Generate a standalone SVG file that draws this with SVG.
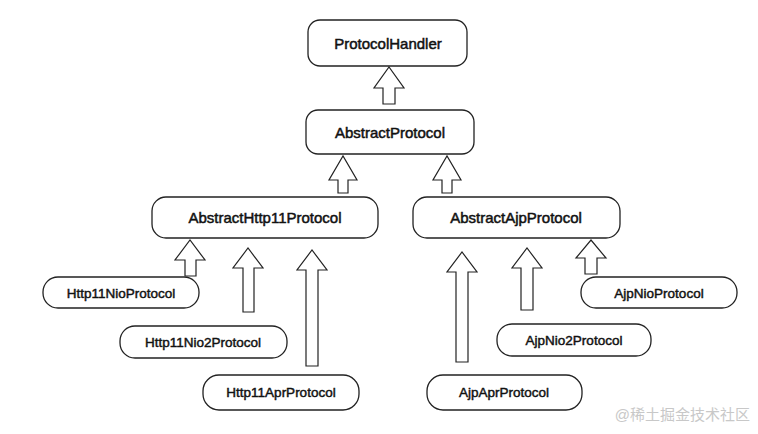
<svg xmlns="http://www.w3.org/2000/svg" width="758" height="434" viewBox="0 0 758 434">
<style>
.b{fill:#fff;stroke:#222;stroke-width:1.3}
.t{font-family:"Liberation Sans",Arial,sans-serif;font-size:15px;fill:#111;text-anchor:middle;dominant-baseline:central;stroke:#111;stroke-width:0.5}
.s{font-size:13.5px;stroke-width:0.45}
.a{fill:#fff;stroke:#222;stroke-width:1.2;stroke-linejoin:miter}
</style>
<rect width="758" height="434" fill="#fff"/>
<g id="connectors">
<path class="a" d="M383,104 V88 H374 L389,67 L404,88 H395 V104 Z"/>
<path class="a" d="M338,193 V180 H329 L343,156 L357,180 H348 V193 Z"/>
<path class="a" d="M442,193 V180 H433 L447,156 L461,180 H452 V193 Z"/>
<path class="a" d="M185,276 V260 H175 L190,240 L205,260 H196 V276 Z"/>
<path class="a" d="M243,312 V268 H233 L248,248 L263,268 H254 V312 Z"/>
<path class="a" d="M306,366 V270 H297 L312,250 L327,270 H318 V366 Z"/>
<path class="a" d="M456,362 V272 H447 L462,252 L477,272 H468 V362 Z"/>
<path class="a" d="M521,310 V268 H512 L527,248 L542,268 H533 V310 Z"/>
<path class="a" d="M585,274 V258 H576 L591,240 L606,258 H597 V274 Z"/>
</g>
<g id="ProtocolHandler"><rect class="b" x="308" y="20" width="159" height="46" rx="12"/><text class="t" x="388" y="43">ProtocolHandler</text></g>
<g id="AbstractProtocol"><rect class="b" x="306" y="110" width="168" height="44" rx="12"/><text class="t" x="390" y="132">AbstractProtocol</text></g>
<g id="AbstractHttp11Protocol"><rect class="b" x="152" y="197" width="226" height="41" rx="14"/><text class="t" x="265" y="217">AbstractHttp11Protocol</text></g>
<g id="AbstractAjpProtocol"><rect class="b" x="413" y="197" width="207" height="41" rx="14"/><text class="t" x="516" y="217">AbstractAjpProtocol</text></g>
<g id="Http11NioProtocol"><rect class="b" x="43" y="277" width="156" height="31" rx="15"/><text class="t s" x="121" y="293">Http11NioProtocol</text></g>
<g id="Http11Nio2Protocol"><rect class="b" x="120" y="326" width="167" height="32" rx="15"/><text class="t s" x="203" y="342">Http11Nio2Protocol</text></g>
<g id="Http11AprProtocol"><rect class="b" x="203" y="375" width="156" height="35" rx="16"/><text class="t s" x="281" y="392">Http11AprProtocol</text></g>
<g id="AjpAprProtocol"><rect class="b" x="427" y="375" width="155" height="35" rx="16"/><text class="t s" x="504" y="392">AjpAprProtocol</text></g>
<g id="AjpNio2Protocol"><rect class="b" x="497" y="324" width="154" height="32" rx="15"/><text class="t s" x="574" y="340">AjpNio2Protocol</text></g>
<g id="AjpNioProtocol"><rect class="b" x="581" y="277" width="156" height="31" rx="15"/><text class="t s" x="659" y="293">AjpNioProtocol</text></g>
<text x="750" y="420" font-family="'Liberation Sans','Noto Sans CJK SC',sans-serif" font-size="15" fill="#c8c8c8" text-anchor="end">@稀土掘金技术社区</text>
</svg>
